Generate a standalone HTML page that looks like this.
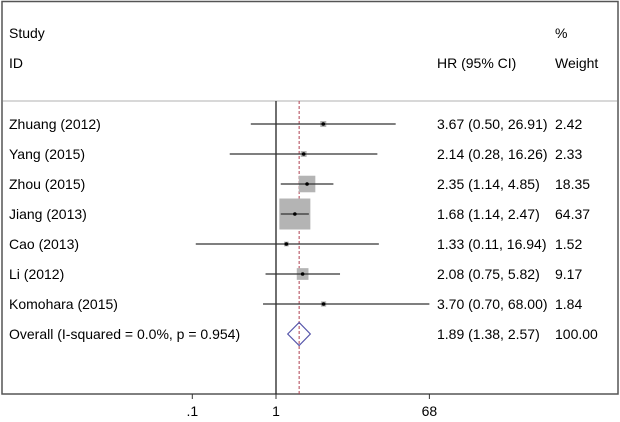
<!DOCTYPE html>
<html><head><meta charset="utf-8"><style>
body{margin:0;background:#fff;}
svg{display:block;font-family:"Liberation Sans",Arial,sans-serif;}
</style></head><body>
<svg id="c" width="620" height="422">
<rect x="2" y="1.5" width="616" height="392.5" fill="none" stroke="#555" stroke-width="1.5"/>
<line x1="3" y1="101" x2="617" y2="101" stroke="#ccc" stroke-width="1.5"/>
<text x="9" y="38" font-size="14" fill="#000">Study</text>
<text x="9" y="68" font-size="14" fill="#000">ID</text>
<text x="437" y="68" font-size="14" fill="#000">HR (95% CI)</text>
<text x="555" y="38" font-size="14" fill="#000">%</text>
<text x="555" y="68" font-size="14" fill="#000">Weight</text>
<g id="marks"></g>
</svg>
<script>
const studies=["Zhuang (2012)","Yang (2015)","Zhou (2015)","Jiang (2013)","Cao (2013)","Li (2012)","Komohara (2015)"];
const hr=[3.67,2.14,2.35,1.68,1.33,2.08,3.70];
const lo=[0.50,0.28,1.14,1.14,0.11,0.75,0.70];
const hi=[26.91,16.26,4.85,2.47,16.94,5.82,68.00];
const weights=[2.42,2.33,18.35,64.37,1.52,9.17,1.84];
const hrLabels=["3.67 (0.50, 26.91)","2.14 (0.28, 16.26)","2.35 (1.14, 4.85)","1.68 (1.14, 2.47)","1.33 (0.11, 16.94)","2.08 (0.75, 5.82)","3.70 (0.70, 68.00)"];
const weightLabels=["2.42","2.33","18.35","64.37","1.52","9.17","1.84"];
const overall=[1.89,1.38,2.57];
const overallLabel="1.89 (1.38, 2.57)";
const overallText="Overall  (I-squared = 0.0%, p = 0.954)";
const ticks=[0.1,1,68];
const tickLabels=[".1","1","68"];

const NS="http://www.w3.org/2000/svg";
const g=document.getElementById('marks');
const X=v=>276+Math.log10(v)*83.7;
const Y=i=>124+i*30;
const maxW=Math.max(...weights);
function mk(tag,attrs,parent){const e=document.createElementNS(NS,tag);for(const k in attrs)e.setAttribute(k,attrs[k]);(parent||g).appendChild(e);return e;}
function txt(x,y,s,anchor){const e=mk('text',{x:x,y:y+5,'font-size':14,fill:'#000','text-anchor':anchor||'start'});e.textContent=s;return e;}

let e=mk('line',{x1:X(1),y1:101,x2:X(1),y2:394,stroke:'#222','stroke-width':1.3});


e=mk('line',{x1:X(overall[0]),y1:101,x2:X(overall[0]),y2:394,stroke:'#b04050','stroke-width':1,'stroke-dasharray':'3,2'});



studies.forEach((s,i)=>{
  const y=Y(i);
  const side=31*Math.sqrt(weights[i]/maxW);
  const bx=mk('rect',{x:X(hr[i])-side/2,y:y-side/2,width:side,height:side,fill:'#b4b4b4'});
  
  
  const ci=mk('line',{x1:X(lo[i]),y1:y,x2:X(hi[i]),y2:y,stroke:'#333','stroke-width':1.3});
  
  
  const pt=mk('circle',{cx:X(hr[i]),cy:y,r:1.8,fill:'#000'});
  
  
  let t=txt(9,y,s);
  
  
  t=txt(437,y,hrLabels[i]);
  
  
  t=txt(555,y,weightLabels[i]);
  
  
});
const oy=Y(7);
const d=mk('polygon',{points:`${X(overall[1])},${oy} ${X(overall[0])},${oy-11.5} ${X(overall[2])},${oy} ${X(overall[0])},${oy+11.5}`,fill:'none',stroke:'#5555aa','stroke-width':1.2});


let t=txt(9,oy,overallText);
t.setAttribute('xml:space','preserve');


t=txt(437,oy,overallLabel);


t=txt(555,oy,"100.00");



ticks.forEach((v,i)=>{
  const tk=mk('line',{x1:X(v),y1:394,x2:X(v),y2:399,stroke:'#333','stroke-width':1});
  
  
  const tl=txt(X(v),411,tickLabels[i],'middle');
  
  
});
</script>
</body></html>
